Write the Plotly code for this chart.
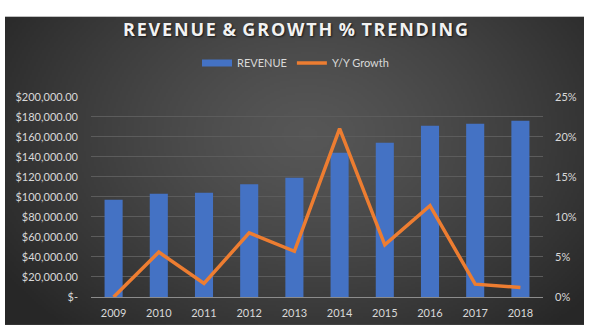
import base64
import struct
import zlib

import plotly.graph_objects as go

years = ["2009", "2010", "2011", "2012", "2013", "2014", "2015", "2016", "2017", "2018"]
revenue = [97000, 103000, 104000, 112500, 119000, 144000, 154000, 171000, 173000, 176000]
growth = [0.0, 0.056, 0.017, 0.080, 0.057, 0.210, 0.065, 0.114, 0.016, 0.012]

rev_ticks = [0, 20000, 40000, 60000, 80000, 100000, 120000, 140000, 160000, 180000, 200000]
rev_labels = ["$-"] + ["${:,.2f}".format(v) for v in rev_ticks[1:]]
pct_ticks = [0, 0.05, 0.10, 0.15, 0.20, 0.25]
pct_labels = ["0%", "5%", "10%", "15%", "20%", "25%"]

W, H = 591, 335
L, R, T, B = 91, 48, 89, 38
pw, ph = W - L - R, H - T - B


def px(x):
    return (x - L) / pw


def py(y):
    return (H - B - y) / ph


def radial_png(w, h, cx, cy, rx, ry, inner, outer):
    rows = []
    for j in range(h):
        row = bytearray([0])
        for i in range(w):
            d = (((i - cx) / rx) ** 2 + ((j - cy) / ry) ** 2) ** 0.5
            t = min(d, 1.0)
            t = t ** 1.3
            v = int(round(inner + (outer - inner) * t))
            row += bytes([v, v, v])
        rows.append(bytes(row))
    raw = b"".join(rows)

    def chunk(tag, data):
        c = struct.pack(">I", len(data)) + tag + data
        return c + struct.pack(">I", zlib.crc32(tag + data) & 0xffffffff)

    png = b"\x89PNG\r\n\x1a\n"
    png += chunk(b"IHDR", struct.pack(">IIBBBBB", w, h, 8, 2, 0, 0, 0))
    png += chunk(b"IDAT", zlib.compress(raw, 9))
    png += chunk(b"IEND", b"")
    return "data:image/png;base64," + base64.b64encode(png).decode()


BG_X0, BG_X1, BG_Y0, BG_Y1 = 5, 584, 6, 326
bw, bh = BG_X1 - BG_X0, BG_Y1 - BG_Y0
bg = radial_png(bw // 2, bh // 2, bw * 0.52 / 2, bh * 0.38 / 2, bw * 0.62 / 2, bh * 0.85 / 2, 0x56, 0x27)

fig = go.Figure()
fig.add_trace(go.Bar(x=years, y=revenue, name="REVENUE", showlegend=False,
                     marker=dict(color="#4472C4", line=dict(width=0)),
                     yaxis="y"))
fig.add_trace(go.Scatter(x=[None], y=[None], name="REVENUE", mode="lines",
                         line=dict(color="#4472C4", width=7), yaxis="y", hoverinfo="skip"))
fig.add_trace(go.Scatter(x=years, y=growth, name="Y/Y Growth", mode="lines",
                         line=dict(color="#ED7D31", width=3.5), yaxis="y2"))

fig.add_layout_image(dict(source=bg, xref="paper", yref="paper",
                          x=px(BG_X0), y=py(BG_Y0), sizex=px(BG_X1) - px(BG_X0),
                          sizey=py(BG_Y0) - py(BG_Y1), sizing="stretch",
                          xanchor="left", yanchor="top", layer="below"))

fig.update_layout(
    width=W, height=H,
    margin=dict(l=L, r=R, t=T, b=B, pad=0),
    paper_bgcolor="white",
    plot_bgcolor="rgba(0,0,0,0)",
    bargap=0.6,
    font=dict(family="Lato, Open Sans, sans-serif", color="#d9d9d9", size=11),
    title=dict(text="R\u200aE\u200aV\u200aE\u200aN\u200aU\u200aE \u200a&amp;\u200a G\u200aR\u200aO\u200aW\u200aT\u200aH \u200a%\u200a T\u200aR\u200aE\u200aN\u200aD\u200aI\u200aN\u200aG",
               x=0.5, xref="container",
               y=1 - 30 / H, yref="container", yanchor="middle", xanchor="center",
               font=dict(family="Open Sans, sans-serif", size=18, color="#f2f2f2", weight="bold",
                         shadow="1px 1px 2px rgba(0,0,0,0.7)")),
    legend=dict(orientation="h", x=0.5, xref="container", xanchor="center",
                y=1 - 63 / H, yref="container", yanchor="middle",
                font=dict(size=11, color="#d9d9d9"), bgcolor="rgba(0,0,0,0)",
                itemwidth=30, tracegroupgap=0),
    xaxis=dict(showgrid=False, showline=True, linecolor="#8c8c8c", linewidth=1,
               ticks="", tickfont=dict(size=11, color="#d9d9d9"), zeroline=False,
               ticklabelstandoff=6),
    yaxis=dict(range=[0, 200000], tickvals=rev_ticks, ticktext=rev_labels,
               showgrid=True, gridcolor="#5c5c5c", gridwidth=1, zeroline=False,
               ticks="", tickfont=dict(size=11, color="#d9d9d9"), ticklabelstandoff=12),
    yaxis2=dict(range=[0, 0.25], tickvals=pct_ticks, ticktext=pct_labels,
                overlaying="y", side="right", showgrid=False, zeroline=False,
                ticks="", tickfont=dict(size=11, color="#d9d9d9"), ticklabelstandoff=11),
)

fig.write_html("out.html")
